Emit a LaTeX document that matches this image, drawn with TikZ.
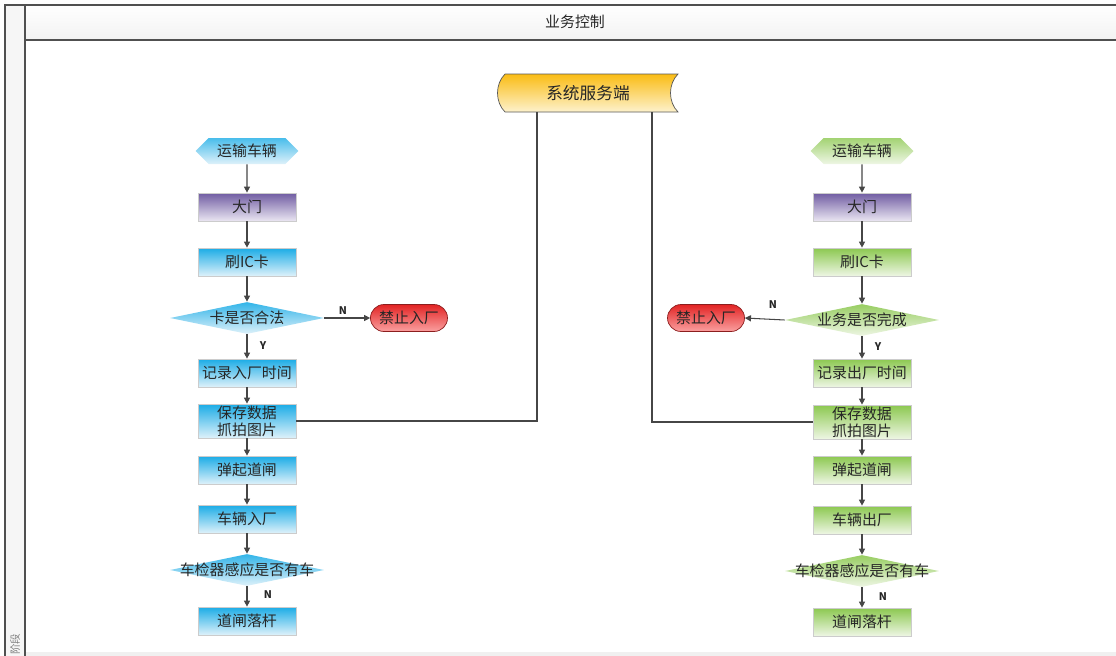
\documentclass[tikz,border=0pt]{standalone}
\usepackage{fontspec}
\newfontfamily\cjk{Noto Sans CJK SC}
\usepackage{tikz}
\usetikzlibrary{shapes.geometric, shapes.symbols, arrows.meta, calc}
\definecolor{cyantop}{RGB}{27,172,230}
\definecolor{cyanbot}{RGB}{222,241,250}
\definecolor{greentop}{RGB}{140,200,80}
\definecolor{greenbot}{RGB}{238,246,228}
\definecolor{purpletop}{RGB}{112,92,162}
\definecolor{purplebot}{RGB}{234,230,242}
\definecolor{redtop}{RGB}{226,36,36}
\definecolor{redbot}{RGB}{250,160,160}
\definecolor{redline}{RGB}{140,30,30}
\definecolor{gold}{RGB}{250,188,20}
\definecolor{goldbot}{RGB}{253,242,205}
\definecolor{frameline}{RGB}{80,80,80}
\definecolor{arrline}{RGB}{70,70,70}

\begin{document}
\begin{tikzpicture}[x=0.02cm, y=-0.02cm,
    every node/.style={font=\cjk\fontsize{8.5}{10}\selectfont, text=black!85},
    box/.style={rectangle, draw=gray!40, minimum width=1.96cm, minimum height=0.56cm, inner sep=1pt, align=center},
    hexa/.style={signal, signal to=west and east, signal pointer angle=90, minimum width=2.06cm, minimum height=0.52cm, inner sep=1pt},
    decide/.style={diamond, minimum width=3.08cm, minimum height=0.64cm, inner sep=0pt},
    stop/.style={rectangle, rounded corners=0.27cm, draw=redline, top color=redtop, bottom color=redbot, minimum width=1.54cm, minimum height=0.54cm},
    arr/.style={-{Triangle[length=3.5pt, width=3.5pt]}, arrline, line width=0.6pt},
    link/.style={arrline, line width=0.6pt},
    yn/.style={font=\cjk\bfseries\fontsize{6}{7}\selectfont}]
    \useasboundingbox (0,0) rectangle (1116,656);

    % Frame
    \fill[gray!7] (5,5) rectangle (25,656);
    \shade[top color=white, bottom color=gray!10] (25,5) rectangle (1116,40);
    \fill[gray!12] (25,652) rectangle (1116,656);
    \draw[frameline, line width=0.7pt] (5,656) -- (5,5) -- (1116,5);
    \draw[frameline, line width=0.7pt] (25,5) -- (25,656);
    \draw[frameline, line width=0.7pt] (25,40) -- (1116,40);
    \node (title) at (575,22) {业务控制};
    \node[rotate=90, font=\cjk\fontsize{6}{7}\selectfont, text=gray] (stage) at (15,644) {阶段};

    % Server
    \shade[top color=gold, bottom color=goldbot, draw=gray!70!black, line width=0.4pt]
        (505,74) -- (678,74) .. controls (668,84) and (668,102) .. (678,112)
        -- (505,112) .. controls (495,102) and (495,84) .. (505,74) -- cycle;
    \node[minimum width=3.46cm, minimum height=0.76cm, font=\cjk\fontsize{9.5}{11}\selectfont] (srv) at (588,93) {系统服务端};

    % Left column
    \node[hexa, top color=cyantop!80, bottom color=cyanbot] (l0) at (247,151) {运输车辆};
    \node[box, top color=purpletop, bottom color=purplebot] (l1) at (247,207) {大门};
    \node[box, top color=cyantop, bottom color=cyanbot] (l2) at (247,262) {刷IC卡};
    \node[decide, top color=cyantop!90, bottom color=cyanbot, label=center:{卡是否合法}] (l3) at (247,318) {};
    \node[stop] (lno) at (409,318) {禁止入厂};
    \node[box, top color=cyantop, bottom color=cyanbot] (l4) at (247,373) {记录入厂时间};
    \node[box, top color=cyantop, bottom color=cyanbot, font=\cjk\fontsize{8.5}{9.5}\selectfont] (l5) at (247,421) {保存数据\\抓拍图片};
    \node[box, top color=cyantop, bottom color=cyanbot] (l6) at (247,470) {弹起道闸};
    \node[box, top color=cyantop, bottom color=cyanbot] (l7) at (247,519) {车辆入厂};
    \node[decide, top color=cyantop!90, bottom color=cyanbot, label=center:{车检器感应是否有车}] (l8) at (247,570) {};
    \node[box, top color=cyantop, bottom color=cyanbot] (l9) at (247,621) {道闸落杆};

    % Right column
    \node[hexa, top color=greentop!80, bottom color=greenbot] (r0) at (862,151) {运输车辆};
    \node[box, top color=purpletop, bottom color=purplebot] (r1) at (862,207) {大门};
    \node[box, top color=greentop, bottom color=greenbot] (r2) at (862,262) {刷IC卡};
    \node[decide, top color=greentop!90, bottom color=greenbot, label=center:{业务是否完成}] (r3) at (862,320) {};
    \node[stop] (rno) at (706,318) {禁止入厂};
    \node[box, top color=greentop, bottom color=greenbot] (r4) at (862,373) {记录出厂时间};
    \node[box, top color=greentop, bottom color=greenbot, font=\cjk\fontsize{8.5}{9.5}\selectfont] (r5) at (862,422) {保存数据\\抓拍图片};
    \node[box, top color=greentop, bottom color=greenbot] (r6) at (862,470) {弹起道闸};
    \node[box, top color=greentop, bottom color=greenbot] (r7) at (862,520) {车辆出厂};
    \node[decide, top color=greentop!90, bottom color=greenbot, label=center:{车检器感应是否有车}] (r8) at (862,571) {};
    \node[box, top color=greentop, bottom color=greenbot] (r9) at (862,622) {道闸落杆};

    % Flow
    \foreach \s in {l, r} {
        \foreach \a/\b in {0/1, 1/2, 2/3, 3/4, 4/5, 5/6, 6/7, 7/8, 8/9} {
            \draw[arr] (\s\a) -- (\s\b);
        }
    }
    \draw[arr] (l3.east) -- (lno.west);
    \draw[arr] (r3.west) -- (rno.east);

    % Server links
    \draw[link] ($(srv.south)+(-51,0)$) |- (l5.east);
    \draw[link] ($(srv.south)+(64,0)$) |- (r5.west);

    % Labels
    \node[yn] (ln) at (343,311) {N};
    \node[yn] (ly) at (263,346) {Y};
    \node[yn] (ln2) at (268,595) {N};
    \node[yn] (rn) at (773,305) {N};
    \node[yn] (ry) at (878,347) {Y};
    \node[yn] (rn2) at (883,597) {N};
\end{tikzpicture}
\end{document}
